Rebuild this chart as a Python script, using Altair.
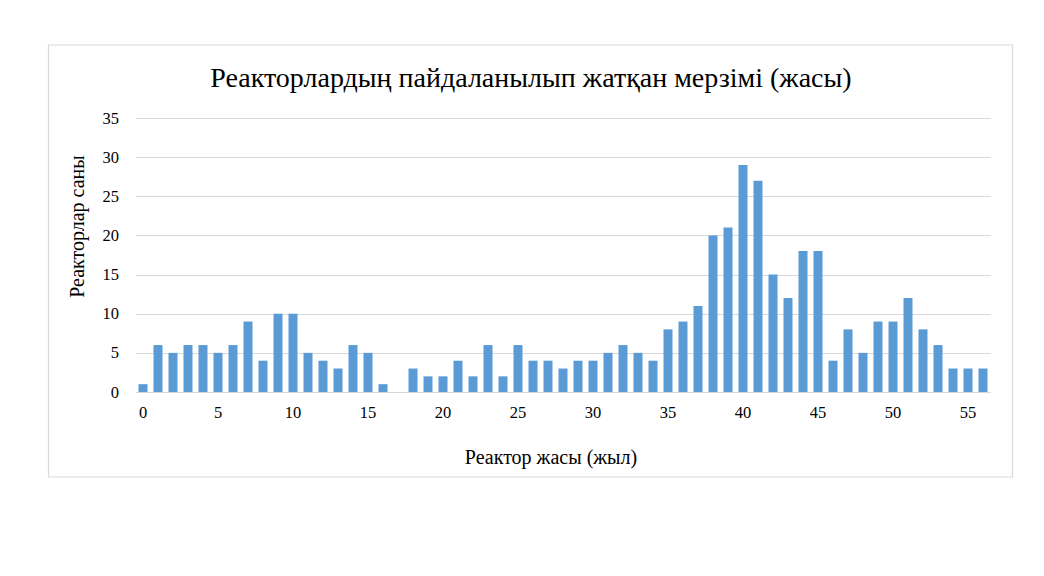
import altair as alt
import pandas as pd

ages = list(range(0, 57))
counts = [1, 6, 5, 6, 6, 5, 6, 9, 4, 10, 10, 5, 4, 3, 6, 5, 1, 0, 3, 2,
          2, 4, 2, 6, 2, 6, 4, 4, 3, 4, 4, 5, 6, 5, 4, 8, 9, 11, 20, 21,
          29, 27, 15, 12, 18, 18, 4, 8, 5, 9, 9, 12, 8, 6, 3, 3, 3]
tick_values = [0, 5, 10, 15, 20, 25, 30, 35, 40, 45, 50, 55]
title_text = "Реакторлардың пайдаланылып жатқан мерзімі (жасы)"

df = pd.DataFrame({"age": ages, "count": counts})

FONT = "Liberation Serif"

bars = alt.Chart(df).mark_bar(color="#5B9BD5").encode(
    x=alt.X("age:O", scale=alt.Scale(paddingInner=0.4, paddingOuter=0.2),
            axis=alt.Axis(values=tick_values, labelAngle=0, title="Реактор жасы (жыл)",
                          domain=False, ticks=False, labelPadding=12,
                          labelFontSize=16.5, labelFont=FONT, labelColor="#000",
                          titleFont=FONT, titleFontSize=20, titleFontWeight="normal",
                          titleColor="#000", titleX=415, titleY=65,
                          titleAlign="center", titleBaseline="middle")),
    y=alt.Y("count:Q", scale=alt.Scale(domain=[0, 35]),
            axis=alt.Axis(values=[0, 5, 10, 15, 20, 25, 30, 35], title="Реакторлар саны",
                          domain=False, ticks=False, labelPadding=17,
                          labelFontSize=16.5, labelFont=FONT, labelColor="#000",
                          gridColor="#D9D9D9", gridWidth=1,
                          titleFont=FONT, titleFontSize=20, titleFontWeight="normal",
                          titleColor="#000", titleX=-58, titleY=108,
                          titleAlign="center", titleBaseline="middle", titleAngle=-90)),
)

border = alt.Chart(pd.DataFrame({"a": [0]})).mark_rect(
    fill=None, stroke="#D9D9D9", strokeWidth=1.2
).encode(
    x=alt.value(-87), x2=alt.value(877), y=alt.value(-73), y2=alt.value(359)
)

title = alt.Chart(pd.DataFrame({"t": [title_text]})).mark_text(
    font=FONT, fontSize=28, color="#000", align="center", baseline="middle"
).encode(
    text="t:N", x=alt.value(395.5), y=alt.value(-39)
)

chart = alt.layer(border, bars, title).properties(
    width=855, height=274,
    autosize=alt.AutoSizeParams(type="none"),
    padding={"left": 127.5, "top": 110, "right": 40, "bottom": 130},
).configure_view(stroke=None).configure_axisX(grid=False)

chart.save("out.html", embed_options={"renderer": "svg", "actions": False})
